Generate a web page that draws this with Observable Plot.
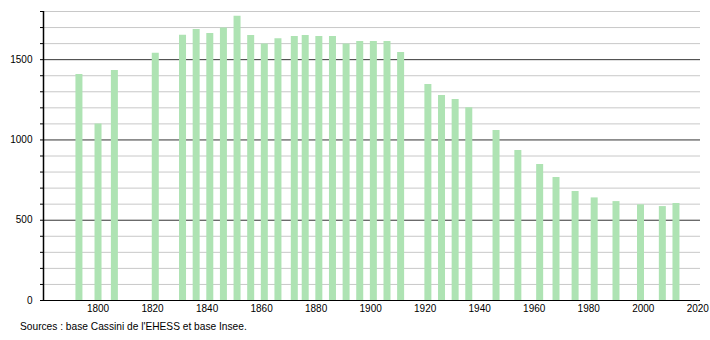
<!DOCTYPE html>
<html>
<head>
<meta charset="utf-8">
<script src="https://cdn.jsdelivr.net/npm/d3@7"></script>
<script src="https://cdn.jsdelivr.net/npm/@observablehq/plot@0.6"></script>
<style>
  body { margin: 0; background: #fff; }
  #caption { font-family: "Liberation Sans", Arial, sans-serif; font-size: 10.2px; color: #000; margin-left: 20px; line-height: 14px; padding-top: 2px; }
</style>
</head>
<body>
<div id="chart"></div>
<div id="caption">Sources : base Cassini de l'EHESS et base Insee.</div>
<script>
const years = [1793, 1800, 1806, 1821, 1831, 1836, 1841, 1846, 1851, 1856, 1861, 1866, 1872, 1876, 1881, 1886, 1891, 1896, 1901, 1906, 1911, 1921, 1926, 1931, 1936, 1946, 1954, 1962, 1968, 1975, 1982, 1990, 1999, 2007, 2012];
const population = [1407, 1100, 1432, 1540, 1652, 1688, 1663, 1698, 1771, 1650, 1598, 1631, 1644, 1650, 1644, 1644, 1598, 1613, 1613, 1613, 1544, 1345, 1277, 1252, 1200, 1059, 934, 847, 766, 679, 639, 616, 596, 585, 604];
const xTicks = [1800, 1820, 1840, 1860, 1880, 1900, 1920, 1940, 1960, 1980, 2000, 2020];
const yLabelTicks = [0, 500, 1000, 1500];
const yGridMinor = [100, 200, 300, 400, 600, 700, 800, 900, 1100, 1200, 1300, 1400, 1600, 1700, 1800];
const yGridMajor = [500, 1000, 1500];
const yAllTicks = [0, ...yGridMinor, ...yGridMajor];

const data = years.map((y, i) => ({year: y, pop: population[i]}));

const chart = Plot.plot({
  width: 710,
  height: 318,
  marginLeft: 43,
  marginRight: 10,
  marginTop: 11,
  marginBottom: 18,
  style: {fontFamily: "Liberation Sans, Arial, sans-serif", fontSize: "10px", color: "#000", background: "#fff"},
  x: {domain: [1780, 2021], ticks: xTicks, tickFormat: d => String(d), label: null},
  y: {domain: [0, 1800], label: null},
  marks: [
    Plot.ruleY(yGridMinor, {stroke: "#c8c8c8", strokeWidth: 1}),
    Plot.ruleY(yGridMajor, {stroke: "#333", strokeWidth: 1}),
    Plot.ruleX(data, {x: "year", y1: 0, y2: "pop", stroke: "#aee3b3", strokeWidth: 7}),
    Plot.axisY({ticks: yAllTicks, tickSize: 3, tickFormat: () => "", stroke: "#000", label: null}),
    Plot.axisY({ticks: yLabelTicks, tickSize: 0, tickPadding: 11, tickFormat: d => String(d), label: null}),
    Plot.axisX({ticks: xTicks, tickSize: 0, tickPadding: 4, tickFormat: d => String(d), label: null}),
    Plot.ruleY([0], {stroke: "#000", strokeWidth: 1}),
    Plot.ruleX([1780], {y1: 0, y2: 1800, stroke: "#000", strokeWidth: 1.5})
  ]
});
document.getElementById("chart").appendChild(chart);
</script>
</body>
</html>
